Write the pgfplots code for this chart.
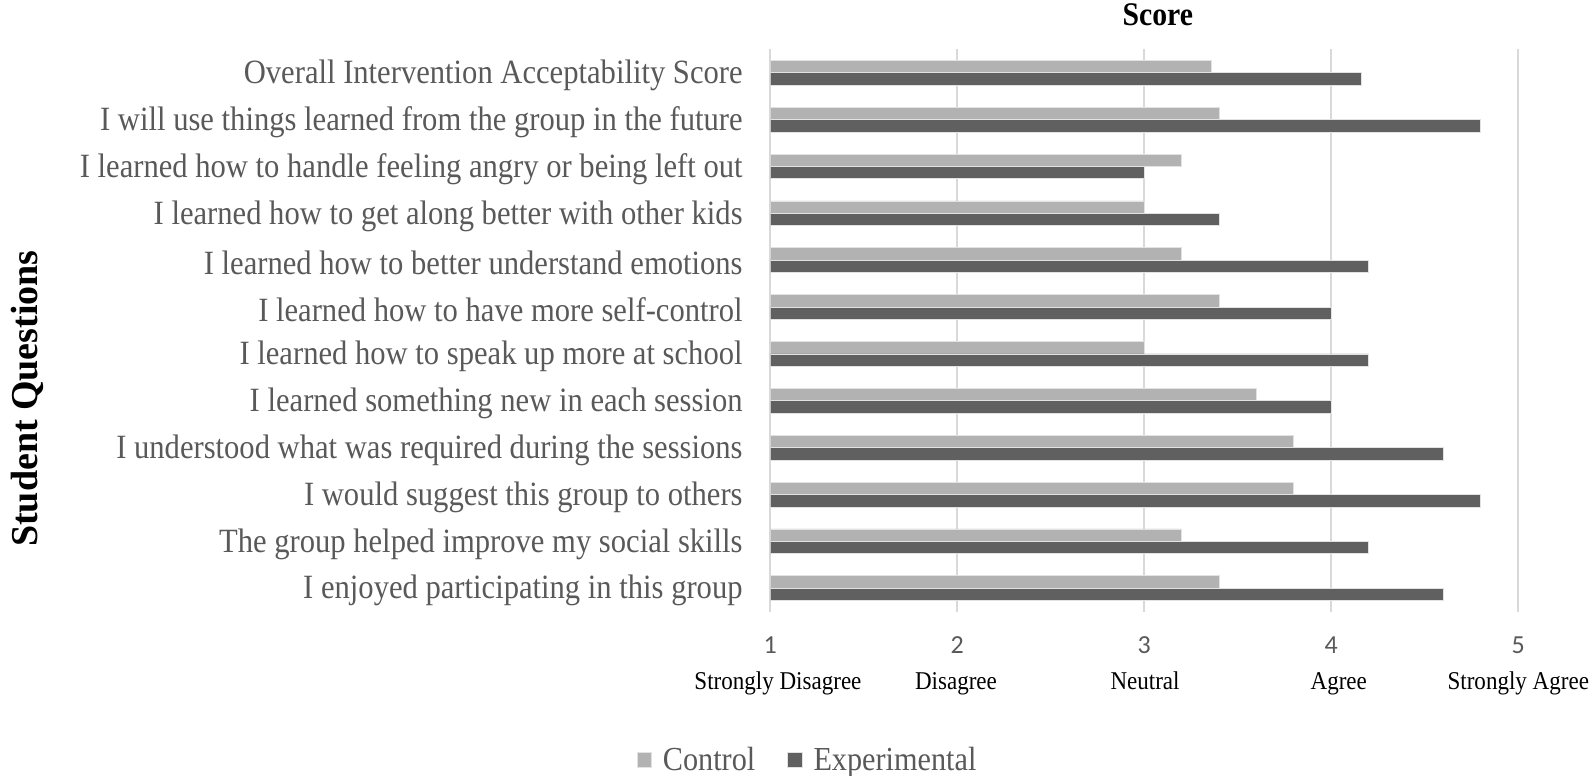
\documentclass[border=0pt]{standalone}
\usepackage{fontspec}
\setmainfont{Liberation Serif}[FakeStretch=0.9]
\newfontfamily\numfont{Carlito}
\newfontfamily\vlabelfont{Liberation Serif}
\usepackage{pgfplots}
\pgfplotsset{compat=1.18}
\definecolor{ctrl}{HTML}{B2B2B2}
\definecolor{expt}{HTML}{606060}
\definecolor{gridc}{HTML}{D9D9D9}
\definecolor{labc}{HTML}{595959}
\definecolor{barline}{HTML}{E2E2E2}

\begin{document}
\begin{tikzpicture}
\useasboundingbox (0,0) rectangle (796pt,388pt);
\begin{axis}[
  at={(385.15pt,363.35pt)}, anchor=north west,
  scale only axis, width=374pt, height=281.2pt,
  clip mode=individual,
  xmin=1, xmax=5, ymin=-0.5, ymax=11.5,
  xbar, bar width=6.2pt,
  axis line style={draw=none},
  xtick={1,2,3,4,5},
  xmajorgrids, major grid style={gridc, line width=0.9pt},
  major tick length=0pt,
  ytick={0,...,11},
  yticklabels={
    I enjoyed participating in this group,
    The group helped improve my social skills,
    I would suggest this group to others,
    I understood what was required during the sessions,
    I learned something new in each session,
    I learned how to speak up more at school,
    I learned how to have more self-control,
    I learned how to better understand emotions,
    I learned how to get along better with other kids,
    I learned how to handle feeling angry or being left out,
    I will use things learned from the group in the future,
    Overall Intervention Acceptability Score},
  y tick label style={font=\fontsize{17}{20}\selectfont, text=labc,
    anchor=east, inner sep=0pt, xshift=-13.65pt, yshift=-1.3pt},
  x tick label style={font=\numfont\fontsize{13}{15}\selectfont, text=labc,
    anchor=north, inner sep=0pt, yshift=-12.5pt},
  /pgf/number format/assume math mode=true,
  ylabel={Student Questions},
  ylabel style={font=\vlabelfont\bfseries\fontsize{19}{22}\selectfont,
    at={(axis description cs:-0.993,0.379)}, anchor=center, inner sep=0pt},
  legend columns=2,
  legend style={at={(axis description cs:-0.1786,-0.2637)}, anchor=west,
    draw=none, fill=none, inner sep=0pt, outer sep=0pt,
    font=\fontsize{16.8}{20}\selectfont, text=labc,
    nodes={inner sep=0pt, anchor=west},
    /tikz/every odd column/.append style={column sep=5.5pt},
    /tikz/every even column/.append style={column sep=16pt}},
  legend image code/.code={\fill[#1] (0pt,-3.6pt) rectangle (7.2pt,3.6pt);},
]
% Control group (upper bar of each pair)
\addplot[fill=ctrl, draw=barline, line width=0.4pt, bar shift=3.1pt] coordinates {
  (3.4,0) (3.2,1) (3.8,2) (3.8,3) (3.6,4) (3.0,5)
  (3.4,6) (3.2,7) (3.0,8) (3.2,9) (3.4,10) (3.36,11)};
% Experimental group (lower bar of each pair)
\addplot[fill=expt, draw=barline, line width=0.4pt, bar shift=-3.1pt] coordinates {
  (4.6,0) (4.2,1) (4.8,2) (4.6,3) (4.0,4) (4.2,5)
  (4.0,6) (4.2,7) (3.4,8) (3.0,9) (4.8,10) (4.16,11)};
\legend{Control, Experimental}
% axis title above the plot area
\node[anchor=base, yshift=11.65pt, inner sep=0pt,
  font=\bfseries\fontsize{16.5}{19}\selectfont] at (rel axis cs:0.518,1) {Score};
% verbal anchors of the rating scale
\begin{scope}[font=\fontsize{12.8}{15}\selectfont]
\node[anchor=base, yshift=-39.15pt, inner sep=0pt] at (axis cs:1.041,-0.5) {Strongly Disagree};
\node[anchor=base, yshift=-39.15pt, inner sep=0pt] at (axis cs:1.993,-0.5) {Disagree};
\node[anchor=base, yshift=-39.15pt, inner sep=0pt] at (axis cs:3.004,-0.5) {Neutral};
\node[anchor=base, yshift=-39.15pt, inner sep=0pt] at (axis cs:4.04,-0.5) {Agree};
\node[anchor=base, yshift=-39.15pt, inner sep=0pt] at (axis cs:5.0,-0.5) {Strongly Agree};
\end{scope}
\end{axis}
\end{tikzpicture}
\end{document}
